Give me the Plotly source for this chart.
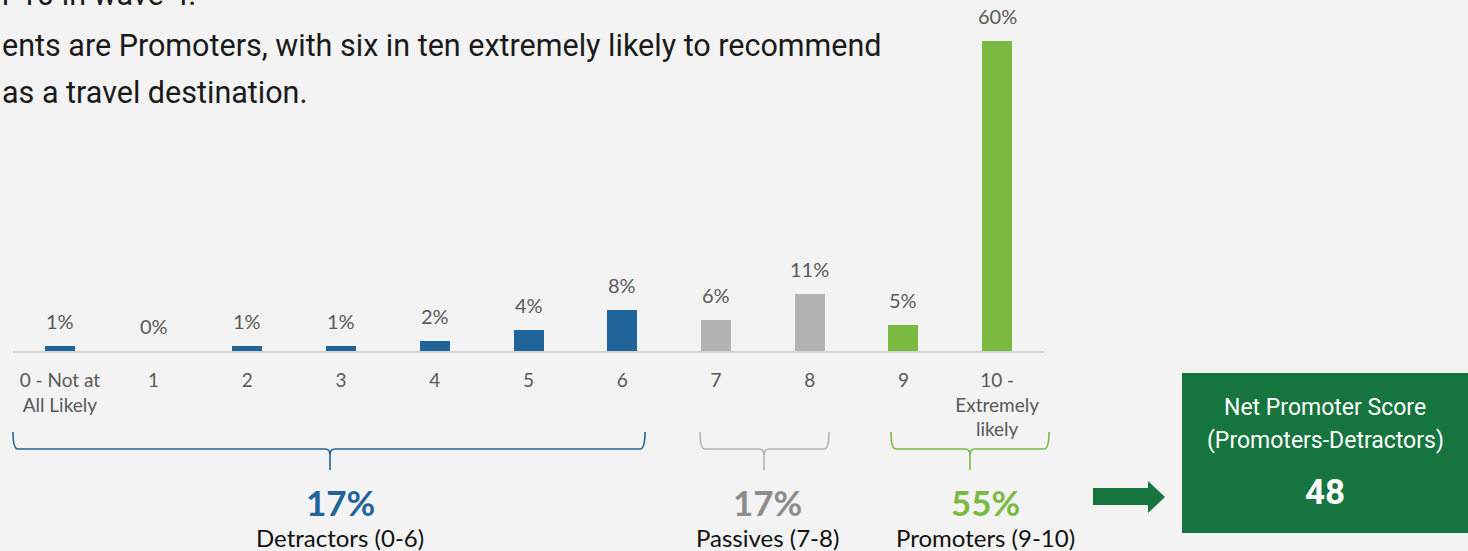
import plotly.graph_objects as go

# Likelihood-to-recommend distribution (share of respondents, %)
categories = ["0 - Not at<br>All Likely", "1", "2", "3", "4", "5", "6", "7", "8", "9",
              "10 -<br>Extremely<br>likely"]
shares = [1, 0, 1, 1, 2, 4, 8, 6, 11, 5, 60]
groups = ["detractor"] * 7 + ["passive"] * 2 + ["promoter"] * 2

# Group totals and NPS as reported
group_names = ["Detractors (0-6)", "Passives (7-8)", "Promoters (9-10)"]
group_totals = [17, 17, 55]
nps_value = 48

BLUE = "#21649a"
GREY = "#b3b3b3"
GREEN = "#7aba41"
DARK_GREEN = "#16743f"
BG = "#f3f3f3"
group_colors = {"detractor": BLUE, "passive": GREY, "promoter": GREEN}

W, H = 1468, 551
L, R = 13, 1044          # plot area in pixels (x)
BASE, TOP = 351, 41      # plot area in pixels (y)


def px(x):
    return (x - L) / (R - L)


def py(y):
    return (BASE - y) / (BASE - TOP)


fig = go.Figure()
fig.add_trace(go.Bar(
    x=categories, y=shares,
    marker=dict(color=[group_colors[g] for g in groups], line=dict(width=0)),
    width=0.32, hoverinfo="skip",
))

annotations = []
# value labels above bars
for c, v in zip(categories, shares):
    annotations.append(dict(
        x=c, y=v, xref="x", yref="y", text=f"{v}%", showarrow=False,
        xanchor="center", yanchor="middle", yshift=25,
        font=dict(family="Lato", size=20, color="#595959"),
    ))

# headline text
head_font = dict(family="Roboto", size=30.5, color="#1a1a1a")
annotations += [
    dict(x=px(0), y=py(-5), xref="paper", yref="paper", xanchor="left", yanchor="middle",
         text="r 10 in wave 4.", showarrow=False, font=head_font),
    dict(x=px(0), y=py(46), xref="paper", yref="paper", xanchor="left", yanchor="middle",
         text="ents are Promoters, with six in ten extremely likely to recommend",
         showarrow=False, font=head_font),
    dict(x=px(0), y=py(92), xref="paper", yref="paper", xanchor="left", yanchor="middle",
         text="as a travel destination.", showarrow=False, font=head_font),
]

# braces grouping the scale points
brace_spans = [(13, 645, 330, BLUE), (700, 829, 764, GREY), (891, 1049, 970, GREEN)]
shapes = []
y_top, y_h, y_bot = 432, 449, 470
for x0, x1, xc, col in brace_spans:
    r = 5
    pts = (
        f"M {px(x0)},{py(y_top)} Q {px(x0)},{py(y_h)} {px(x0 + r)},{py(y_h)} "
        f"L {px(xc - r)},{py(y_h)} Q {px(xc)},{py(y_h)} {px(xc)},{py(y_h + 6)} "
        f"L {px(xc)},{py(y_bot)} "
        f"M {px(xc)},{py(y_h + 6)} Q {px(xc)},{py(y_h)} {px(xc + r)},{py(y_h)} "
        f"L {px(x1 - r)},{py(y_h)} Q {px(x1)},{py(y_h)} {px(x1)},{py(y_top)}"
    )
    shapes.append(dict(type="path", path=pts, xref="paper", yref="paper",
                       line=dict(color=col, width=1.6)))

# group totals under the braces
summary_x = [340, 767, 985]
summary_col = [BLUE, "#8c8c8c", GREEN]
for name, tot, cx, col in zip(group_names, group_totals, summary_x, summary_col):
    annotations.append(dict(x=px(cx), y=py(502), xref="paper", yref="paper",
                            text=f"<b>{tot}%</b>", showarrow=False,
                            xanchor="center", yanchor="middle",
                            font=dict(family="Lato", size=35, color=col)))
    annotations.append(dict(x=px(cx), y=py(537), xref="paper", yref="paper",
                            text=name, showarrow=False, xanchor="center", yanchor="middle",
                            font=dict(family="Lato", size=24, color="#111111")))

# arrow pointing to the NPS box
arrow = (
    f"M {px(1093)},{py(488)} L {px(1148)},{py(488)} L {px(1148)},{py(481)} "
    f"L {px(1165)},{py(497)} L {px(1148)},{py(513)} L {px(1148)},{py(505)} "
    f"L {px(1093)},{py(505)} Z"
)
shapes.append(dict(type="path", path=arrow, xref="paper", yref="paper",
                   fillcolor=DARK_GREEN, line=dict(width=0)))

# NPS box
shapes.append(dict(type="rect", xref="paper", yref="paper",
                   x0=px(1182), x1=px(1470), y0=py(373), y1=py(533),
                   fillcolor=DARK_GREEN, line=dict(width=0)))
box_font = dict(family="Roboto", size=23, color="#ffffff")
annotations += [
    dict(x=px(1325), y=py(407), xref="paper", yref="paper", text="Net Promoter Score",
         showarrow=False, xanchor="center", yanchor="middle", font=box_font),
    dict(x=px(1325), y=py(440), xref="paper", yref="paper", text="(Promoters-Detractors)",
         showarrow=False, xanchor="center", yanchor="middle", font=box_font),
    dict(x=px(1325), y=py(492), xref="paper", yref="paper", text=f"<b>{nps_value}</b>",
         showarrow=False, xanchor="center", yanchor="middle",
         font=dict(family="Roboto", size=35, color="#ffffff")),
]

fig.update_layout(
    width=W, height=H,
    margin=dict(l=L, r=W - R, t=TOP, b=H - BASE),
    paper_bgcolor=BG, plot_bgcolor=BG,
    showlegend=False, bargap=0,
    annotations=annotations, shapes=shapes,
    xaxis=dict(
        type="category", range=[-0.5, 10.5], showgrid=False, zeroline=False,
        showline=True, linecolor="#d4d4d4", linewidth=2,
        ticks="", ticklabelstandoff=11,
        tickfont=dict(family="Lato", size=19, color="#595959"),
        fixedrange=True,
    ),
    yaxis=dict(range=[0, 60], visible=False, fixedrange=True),
)

fig.write_html("out.html")
